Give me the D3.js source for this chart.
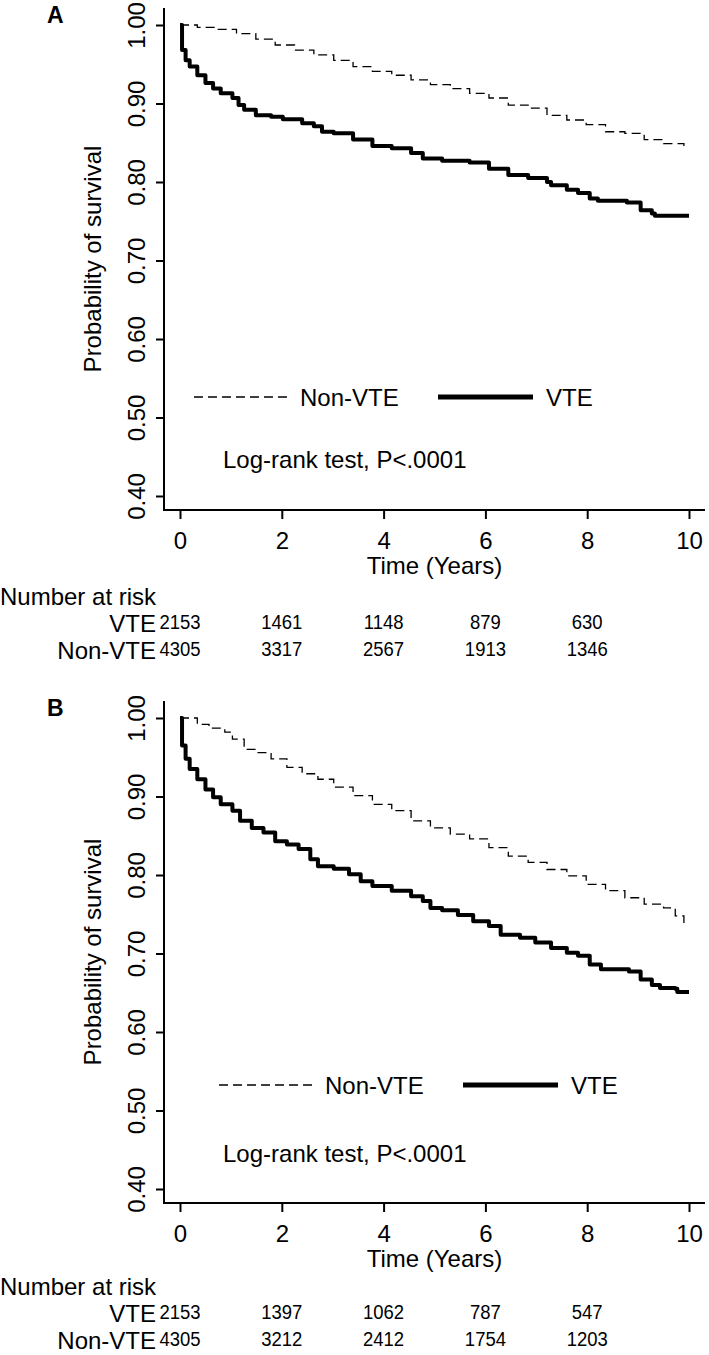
<!DOCTYPE html>
<html><head><meta charset="utf-8">
<script src="https://cdn.jsdelivr.net/npm/d3@7"></script>
<style>body{margin:0;background:#fff}svg text{font-family:"Liberation Sans",Arial,sans-serif;fill:#000}</style>
</head><body><svg id="c" width="709" height="1355"></svg>
<script>
const yTicks=[0.4,0.5,0.6,0.7,0.8,0.9,1.0];
const xTicks=[0,2,4,6,8,10];
const riskTimes=[0,2,4,6,8];
const groupNames=["Non-VTE","VTE"];

// Panel A
const A_vte_t=[0,0.04,0.11,0.19,0.34,0.50,0.65,0.80,1.03,1.15,1.26,1.49,1.79,2.02,2.40,2.63,2.79,3.02,3.40,3.78,4.16,4.54,4.77,5.15,5.69,6.07,6.45,6.84,7.21,7.29,7.60,7.82,8.05,8.21,8.78,9.05,9.27,9.33,10.0];
const A_vte_s=[1.0,0.968,0.955,0.947,0.936,0.926,0.919,0.913,0.907,0.898,0.892,0.885,0.883,0.880,0.875,0.871,0.864,0.862,0.854,0.846,0.843,0.837,0.830,0.827,0.825,0.817,0.809,0.805,0.800,0.796,0.790,0.786,0.779,0.776,0.774,0.764,0.760,0.757,0.757];
const A_non_t=[0,0.34,0.73,1.11,1.49,1.87,2.25,2.63,3.02,3.40,3.78,4.16,4.54,4.92,5.31,5.69,6.07,6.45,6.84,7.21,7.60,7.98,8.36,8.74,9.12,9.50,9.90];
const A_non_s=[1.0,0.997,0.9945,0.989,0.982,0.9745,0.968,0.962,0.955,0.947,0.941,0.936,0.930,0.924,0.919,0.913,0.907,0.898,0.894,0.885,0.879,0.873,0.864,0.862,0.854,0.849,0.843];
const A_risk_vte=[2153,1461,1148,879,630];
const A_risk_non=[4305,3317,2567,1913,1346];

// Panel B
const B_vte_t=[0,0.04,0.11,0.19,0.34,0.50,0.65,0.80,1.03,1.18,1.41,1.64,1.87,2.10,2.33,2.56,2.71,3.02,3.32,3.55,3.78,4.16,4.54,4.77,4.92,5.15,5.46,5.76,6.07,6.30,6.68,6.98,7.29,7.60,7.82,8.05,8.27,8.82,9.05,9.27,9.43,9.73,9.77,10.0];
const B_vte_s=[1.0,0.965,0.948,0.935,0.922,0.909,0.899,0.890,0.882,0.869,0.860,0.854,0.843,0.839,0.833,0.820,0.811,0.808,0.801,0.792,0.786,0.780,0.773,0.767,0.758,0.755,0.749,0.741,0.735,0.724,0.720,0.714,0.707,0.701,0.697,0.686,0.680,0.677,0.667,0.660,0.656,0.655,0.651,0.651];
const B_non_t=[0,0.34,0.57,0.88,1.03,1.26,1.49,1.79,2.10,2.40,2.71,3.02,3.40,3.78,4.16,4.54,4.92,5.31,5.69,6.07,6.45,6.84,7.21,7.60,7.98,8.36,8.74,9.12,9.50,9.73,9.90];
const B_non_s=[1.0,0.992,0.987,0.982,0.973,0.960,0.956,0.948,0.937,0.929,0.922,0.912,0.901,0.890,0.882,0.869,0.860,0.852,0.846,0.835,0.824,0.816,0.807,0.799,0.788,0.780,0.771,0.763,0.758,0.748,0.737];
const B_risk_vte=[2153,1397,1062,787,547];
const B_risk_non=[4305,3212,2412,1754,1203];

const panels=[
 {label:"A",oy:0,vt:A_vte_t,vs:A_vte_s,nt:A_non_t,ns:A_non_s,rv:A_risk_vte,rn:A_risk_non,legY:397,legX:194,logY:468,riskShift:0},
 {label:"B",oy:693,vt:B_vte_t,vs:B_vte_s,nt:B_non_t,ns:B_non_s,rv:B_risk_vte,rn:B_risk_non,legY:1085,legX:219,logY:1162,riskShift:-3}
];

const svg=d3.select("#c");
panels.forEach(p=>{
  const oy=p.oy, rs=p.riskShift;
  const g=svg.append("g");
  const x=d3.scaleLinear().domain([0,10]).range([180,689]);
  const y=d3.scaleLinear().domain([0.4,1.0]).range([496+oy,25+oy]);

  g.append("text").text(p.label).attr("x",47).attr("y",23+oy)
   .style("font-weight","bold").style("font-size","23px");

  // y axis
  const ya=g.append("g").attr("transform","translate(164,0)")
    .call(d3.axisLeft(y).tickValues(yTicks).tickSize(8).tickFormat(d3.format(".2f")));
  ya.select(".domain").remove();
  ya.selectAll(".tick line").attr("stroke","#000").attr("stroke-width",2);
  ya.selectAll(".tick text").attr("x",null).attr("dy",null)
    .attr("transform","translate(-19,0) rotate(-90)")
    .attr("text-anchor","middle").style("font-size","24px").style("font-family","Liberation Sans, Arial, sans-serif");
  g.append("line").attr("x1",164).attr("x2",164).attr("y1",8+oy).attr("y2",511+oy)
   .attr("stroke","#000").attr("stroke-width",2);

  // x axis
  const xa=g.append("g").attr("transform",`translate(0,${510+oy})`)
    .call(d3.axisBottom(x).tickValues(xTicks).tickSize(9));
  xa.select(".domain").remove();
  xa.selectAll(".tick line").attr("stroke","#000").attr("stroke-width",2);
  xa.selectAll(".tick text").attr("y",39).attr("dy",null)
    .style("font-size","24px").style("font-family","Liberation Sans, Arial, sans-serif");
  g.append("line").attr("x1",163).attr("x2",705).attr("y1",510+oy).attr("y2",510+oy)
   .attr("stroke","#000").attr("stroke-width",2);

  g.append("text").text("Time (Years)").attr("x",x(5)).attr("y",574+oy)
   .attr("text-anchor","middle").style("font-size","24px");
  g.append("text").text("Probability of survival")
   .attr("transform",`translate(101,${259+oy}) rotate(-90)`)
   .attr("text-anchor","middle").style("font-size","24px");

  // curves
  const line=d3.line().curve(d3.curveStepAfter);
  g.append("path").attr("d",line(p.nt.map((t,i)=>[x(t),y(p.ns[i])])))
   .attr("fill","none").attr("stroke","#000").attr("stroke-width",1.3).attr("stroke-dasharray","9,5");
  g.append("path").attr("d",line(p.vt.map((t,i)=>[x(t),y(p.vs[i])])))
   .attr("fill","none").attr("stroke","#000").attr("stroke-width",4).attr("stroke-linejoin","round");

  // legend
  const lx=p.legX, ly=p.legY;
  g.append("line").attr("x1",lx).attr("x2",lx+93).attr("y1",ly).attr("y2",ly)
   .attr("stroke","#000").attr("stroke-width",1.3).attr("stroke-dasharray","9,5");
  g.append("text").text(groupNames[0]).attr("x",lx+106).attr("y",ly+9).style("font-size","24px");
  g.append("line").attr("x1",lx+244).attr("x2",lx+339).attr("y1",ly).attr("y2",ly)
   .attr("stroke","#000").attr("stroke-width",5);
  g.append("text").text(groupNames[1]).attr("x",lx+352).attr("y",ly+9).style("font-size","24px");

  g.append("text").text("Log-rank test, P<.0001").attr("x",223).attr("y",p.logY).style("font-size","24px");

  // risk table
  g.append("text").text("Number at risk").attr("x",0).attr("y",605+oy+rs).style("font-size","24px");
  g.append("text").text(groupNames[1]).attr("x",156).attr("y",632+oy+rs).attr("text-anchor","end").style("font-size","24px");
  g.append("text").text(groupNames[0]).attr("x",156).attr("y",659+oy+rs).attr("text-anchor","end").style("font-size","24px");
  g.selectAll(".rv").data(p.rv).enter().append("text").text(d=>d)
   .attr("transform",(d,i)=>`translate(${x(riskTimes[i])},${629+oy+rs}) scale(0.88,1)`)
   .attr("text-anchor","middle").style("font-size","21px");
  g.selectAll(".rn").data(p.rn).enter().append("text").text(d=>d)
   .attr("transform",(d,i)=>`translate(${x(riskTimes[i])},${656+oy+rs}) scale(0.88,1)`)
   .attr("text-anchor","middle").style("font-size","21px");
});
</script></body></html>
